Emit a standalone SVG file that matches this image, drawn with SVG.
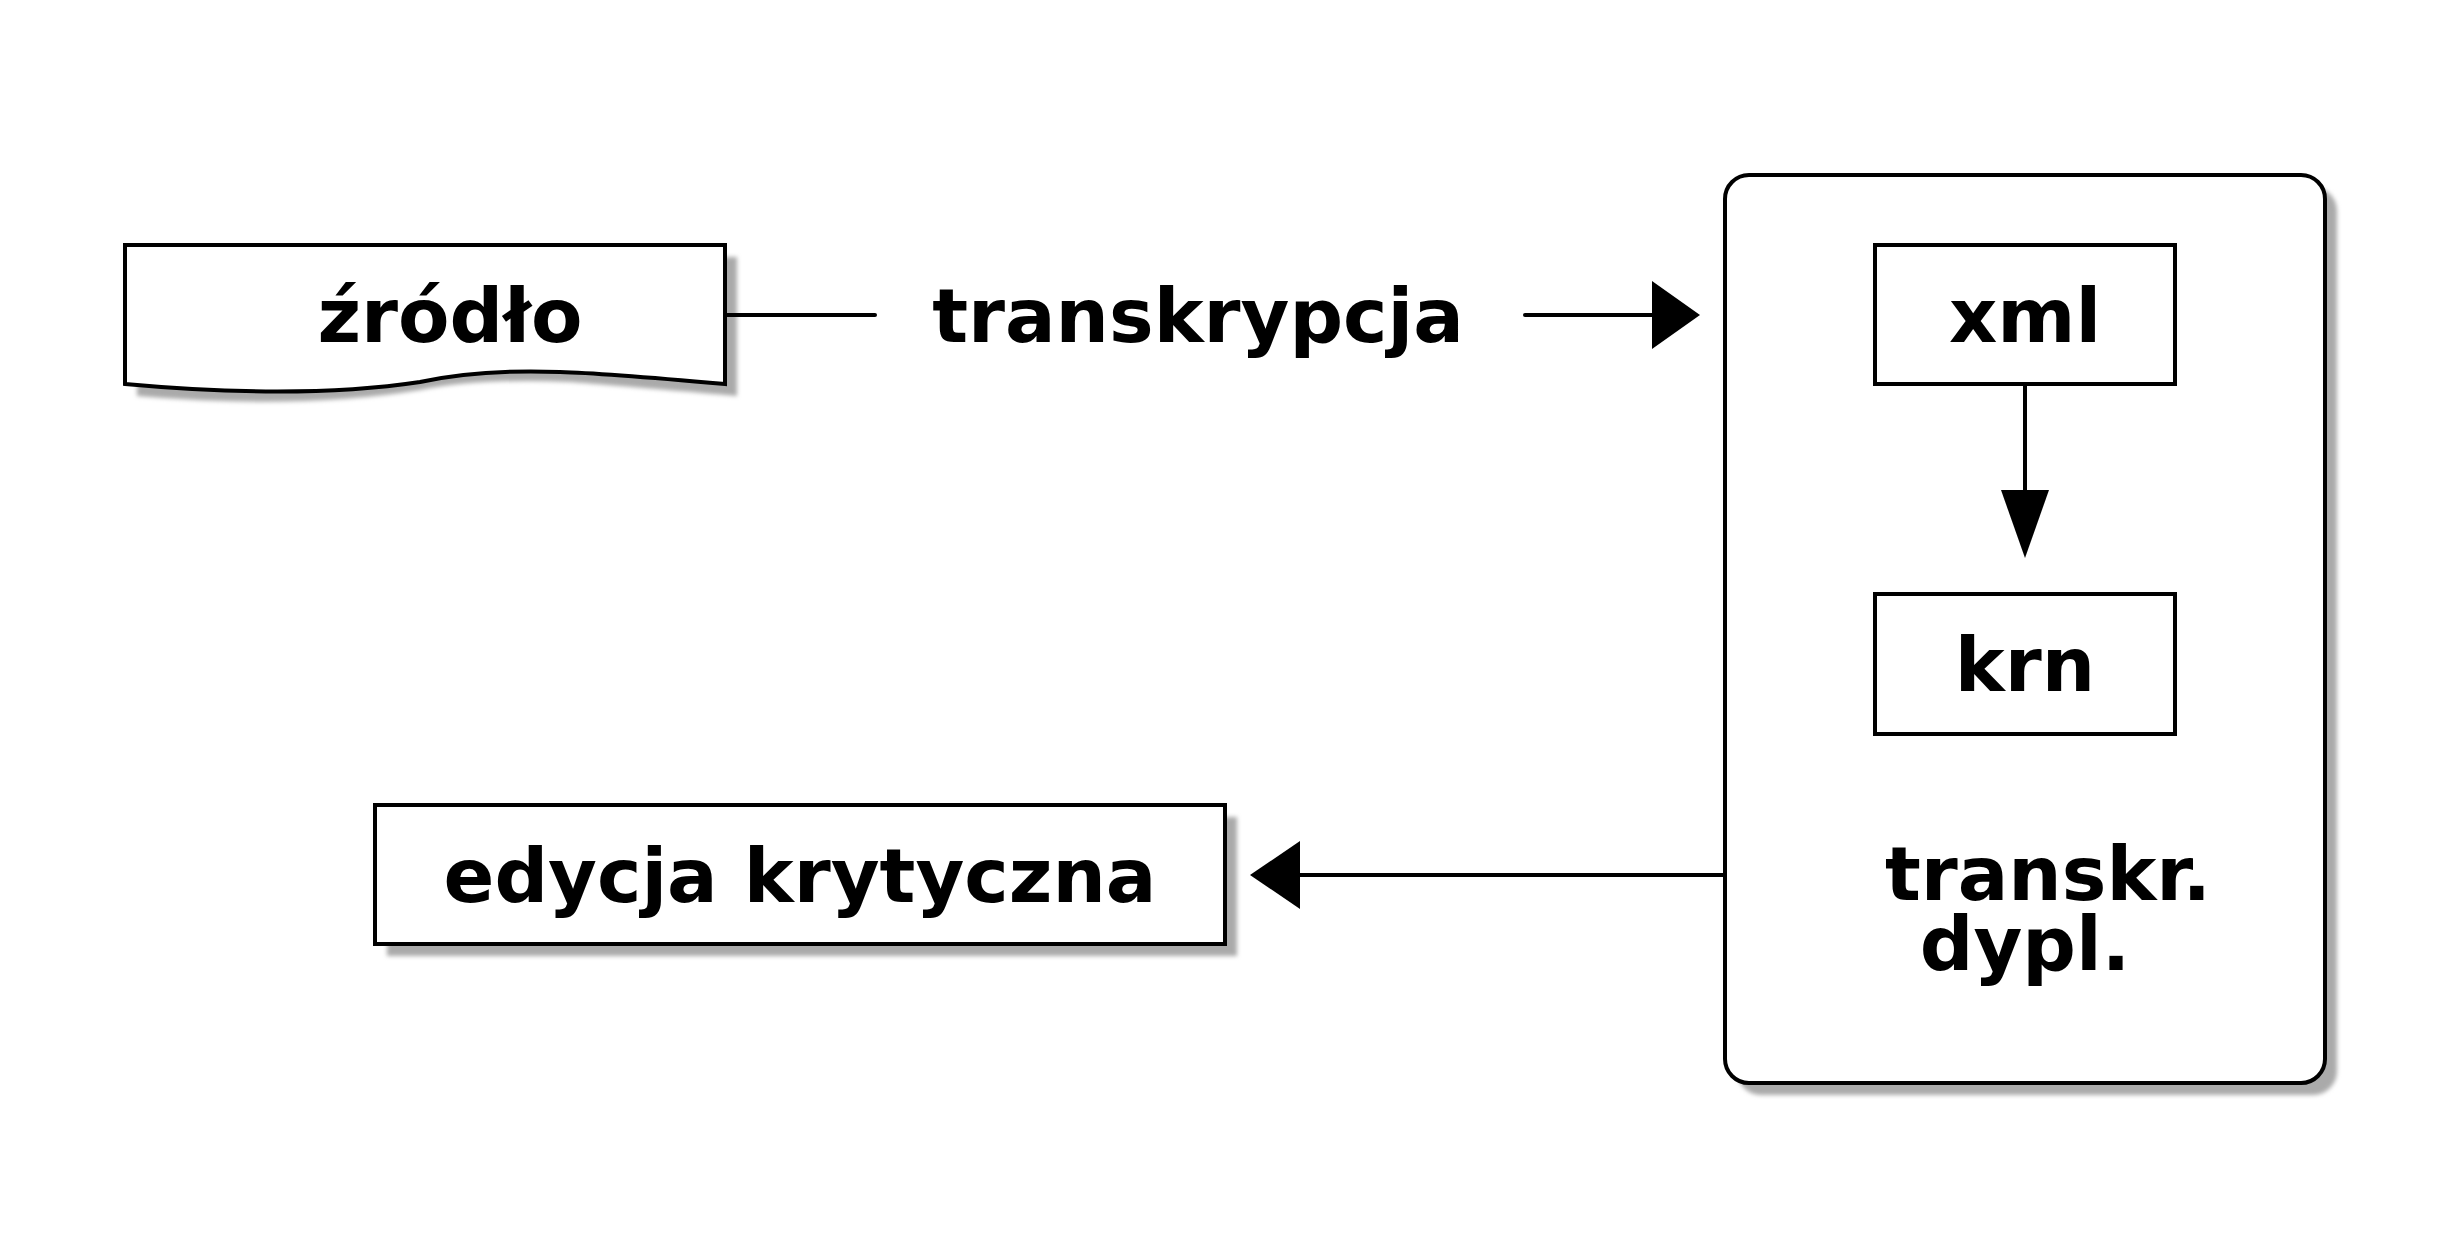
<svg xmlns="http://www.w3.org/2000/svg" width="2450" height="1260" viewBox="0 0 2450 1260">
<defs>
<filter id="sh" x="-10%" y="-10%" width="130%" height="130%"><feGaussianBlur stdDeviation="2"/></filter>
<style>
.b{fill:#fff;stroke:#000;stroke-width:4}
.s{fill:#aaa;filter:url(#sh)}
.t{font-family:"DejaVu Sans",sans-serif;font-weight:bold;font-size:75px;fill:#000;text-anchor:middle}
.l{stroke:#000;stroke-width:4;fill:none;stroke-linecap:round}
</style>
</defs>
<rect width="2450" height="1260" fill="#fff"/>
<g id="zrodlo">
<path class="s" d="M137,257 H737 V396 Q600,384 570,382 Q480,378 420,390 Q300,410 137,396 Z"/>
<path class="b" d="M125,245 H725 V384 Q600,373 560,372 Q480,369 420,382 Q300,400 125,384 Z"/>
<text class="t" x="450" y="342">źródło</text>
</g>
<text class="t" x="1198" y="342">transkrypcja</text>
<g id="transkr">
<rect class="s" x="1737" y="187" width="600" height="908" rx="24"/>
<rect class="b" x="1725" y="175" width="600" height="908" rx="24"/>
<text class="t" x="2048" y="900">transkr.</text>
<text class="t" x="2025" y="970">dypl.</text>
</g>
<g id="xml">
<rect class="b" x="1875" y="245" width="300" height="139"/>
<text class="t" x="2025" y="342">xml</text>
</g>
<g id="krn">
<rect class="b" x="1875" y="594" width="300" height="140"/>
<text class="t" x="2025" y="691">krn</text>
</g>
<g id="edycja">
<rect class="s" x="387" y="817" width="850" height="139"/>
<rect class="b" x="375" y="805" width="850" height="139"/>
<text class="t" x="800" y="902">edycja krytyczna</text>
</g>
<g id="connectors">
<line class="l" x1="725" y1="315" x2="875" y2="315"/>
<line class="l" x1="1525" y1="315" x2="1655" y2="315"/>
<polygon points="1652,281 1700,315 1652,349"/>
<line class="l" x1="2025" y1="384" x2="2025" y2="492"/>
<polygon points="2001,490 2025,558 2049,490"/>
<line class="l" x1="1725" y1="875" x2="1298" y2="875"/>
<polygon points="1300,841 1250,875 1300,909"/>
</g>
</svg>
